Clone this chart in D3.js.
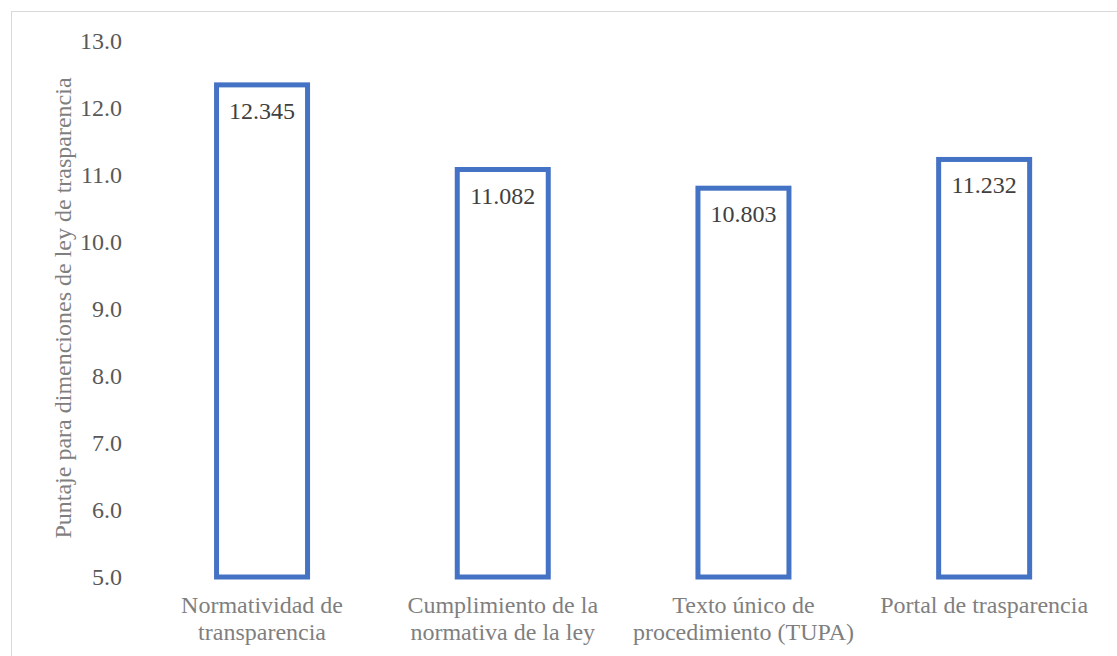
<!DOCTYPE html>
<html>
<head>
<meta charset="utf-8">
<script src="https://cdn.jsdelivr.net/npm/d3@7"></script>
<style>
  html, body { margin: 0; padding: 0; background: #ffffff; }
  svg { display: block; }
</style>
</head>
<body>
<svg id="chart" width="1117" height="656"></svg>
<script>
const categories = [
  "Normatividad de transparencia",
  "Cumplimiento de la normativa de la ley",
  "Texto único de procedimiento (TUPA)",
  "Portal de trasparencia"
];
const values = [12.345, 11.082, 10.803, 11.232];
const valueLabels = ["12.345", "11.082", "10.803", "11.232"];
const yTicks = [5, 6, 7, 8, 9, 10, 11, 12, 13];
const yTitle = "Puntaje para dimenciones de ley de trasparencia";

const FONT = "'Liberation Serif'";
const svg = d3.select("#chart");
const W = 1117, H = 656;

// frame
svg.append("rect")
  .attr("x", 11.5).attr("y", 11.5)
  .attr("width", W).attr("height", H)
  .attr("fill", "#ffffff")
  .attr("stroke", "#d9d9d9").attr("stroke-width", 1);

const x = d3.scaleBand().domain(categories).range([141.7, 1104.5]).paddingInner(0.6).paddingOuter(0.3);
const y = d3.scaleLinear().domain([5, 13]).range([577, 41]);

// y axis tick labels
const yAxis = d3.axisLeft(y).tickValues(yTicks).tickFormat(d3.format(".1f")).tickSize(0).tickPadding(0);
const gy = svg.append("g").attr("transform", "translate(122,0)").call(yAxis);
gy.attr("font-family", null).attr("font-size", null);
gy.select(".domain").remove();
gy.selectAll("text")
  .style("font-family", FONT)
  .style("font-size", "24px")
  .attr("fill", "#595959");

// bars
const bw = 91;
svg.append("g").selectAll("rect").data(values).join("rect")
  .attr("x", (d, i) => x(categories[i]) + x.bandwidth() / 2 - bw / 2)
  .attr("y", d => y(d))
  .attr("width", bw)
  .attr("height", d => y(5) - y(d))
  .attr("fill", "#ffffff")
  .attr("stroke", "#4472c4")
  .attr("stroke-width", 5);

// value labels
svg.append("g").selectAll("text").data(values).join("text")
  .attr("x", (d, i) => x(categories[i]) + x.bandwidth() / 2)
  .attr("y", d => y(d) + 34)
  .attr("text-anchor", "middle")
  .style("font-family", FONT)
  .style("font-size", "24px")
  .attr("fill", "#404040")
  .text((d, i) => valueLabels[i]);

// category labels with wrapping
const step = x.step();
const catG = svg.append("g");
categories.forEach((c, i) => {
  const cx = x(c) + x.bandwidth() / 2;
  const t = catG.append("text")
    .attr("x", cx).attr("y", 613)
    .attr("text-anchor", "middle")
    .style("font-family", FONT)
    .style("font-size", "24px")
    .attr("fill", "#7f7f7f");
  const words = c.split(" ");
  let line = [];
  let lineNo = 0;
  let tspan = t.append("tspan").attr("x", cx).attr("y", 613);
  words.forEach(w => {
    line.push(w);
    tspan.text(line.join(" "));
    if (tspan.node().getComputedTextLength() > step * 0.97 && line.length > 1) {
      line.pop();
      tspan.text(line.join(" "));
      line = [w];
      lineNo++;
      tspan = t.append("tspan").attr("x", cx).attr("y", 613 + lineNo * 27).text(w);
    }
  });
});

// y axis title
svg.append("text")
  .attr("transform", "translate(71," + ((78 + 538) / 2) + ") rotate(-90)")
  .attr("text-anchor", "middle")
  .style("font-family", FONT)
  .style("font-size", "24px")
  .attr("fill", "#7f7f7f")
  .text(yTitle);
</script>
</body>
</html>
